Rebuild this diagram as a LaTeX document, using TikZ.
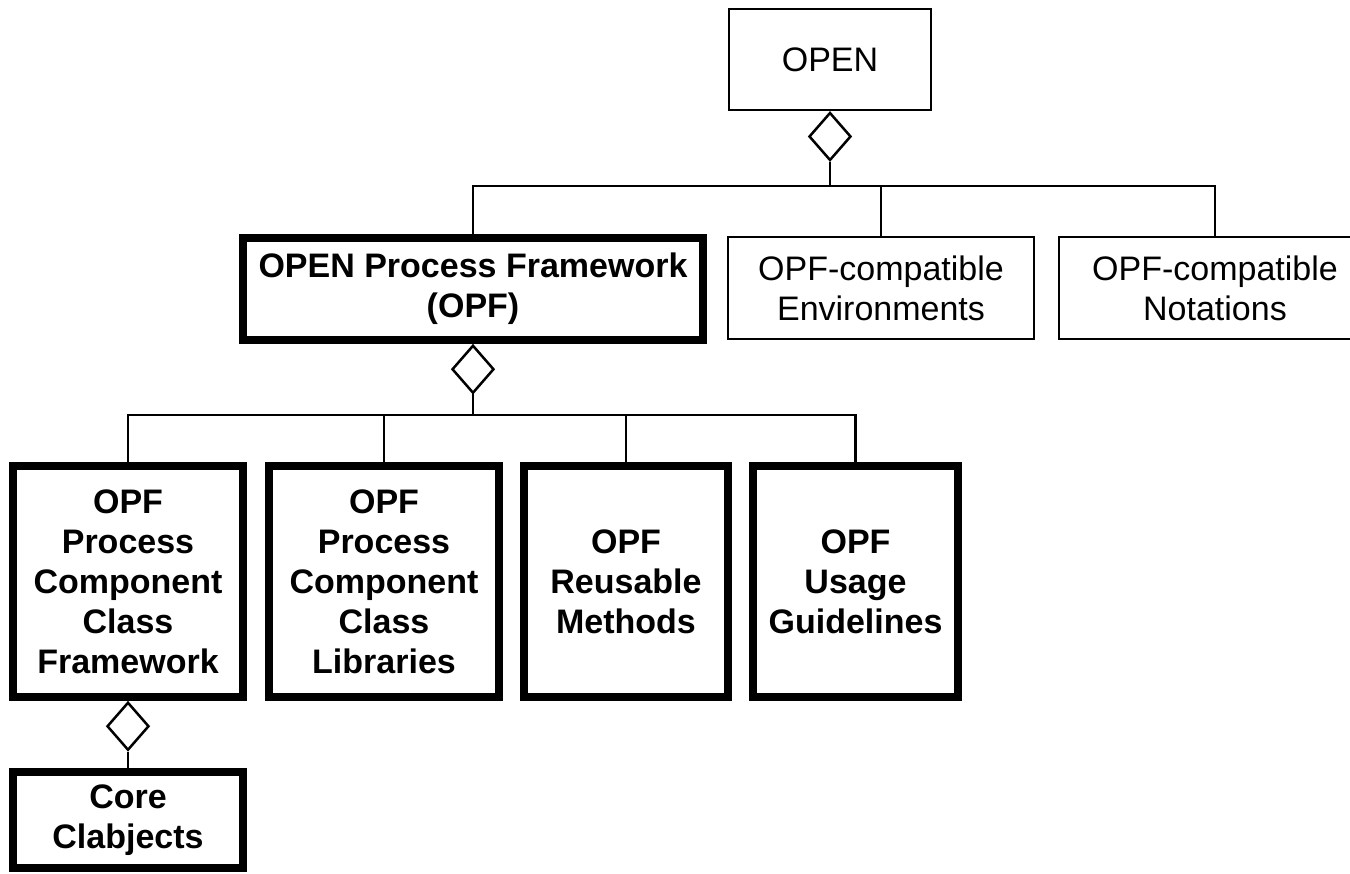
\documentclass[tikz,border=0pt]{standalone}
\usepackage{fontspec}
\setmainfont{Liberation Sans}
\usetikzlibrary{shapes.geometric}
\begin{document}
\begin{tikzpicture}[x=1pt,y=-1pt,
  box/.style={draw, line width=2.5pt, align=center, inner sep=0pt, font=\fontsize{34}{40}\selectfont},
  thickbox/.style={box, line width=8pt, font=\fontsize{34}{40}\selectfont\bfseries},
  agg/.style={diamond, draw, line width=2.5pt, minimum width=42pt, minimum height=48pt, inner sep=0pt, anchor=north, fill=white},
  conn/.style={line width=2.5pt}]
\useasboundingbox (0,0) rectangle (1350,874);
\clip (0,0) rectangle (1350,874);
% top level
\node[box, minimum width=202, minimum height=101] (open) at (830,59.5) {OPEN};
\node[agg] (d1) at (open.south) {};
% second level
\node[thickbox, minimum width=460, minimum height=102] (opf) at (473,289) {OPEN Process Framework\\(OPF)};
\node[box, minimum width=306, minimum height=102] (env) at (881,288) {OPF-compatible\\Environments};
\node[box, minimum width=312, minimum height=102] (notn) at (1215,288) {OPF-compatible\\Notations};
\node[agg] (d2) at (opf.south) {};
% third level
\node[thickbox, minimum width=230, minimum height=231] (pccf) at (128,581.5) {OPF\\Process\\Component\\Class\\Framework};
\node[thickbox, minimum width=230, minimum height=231] (pccl) at (384,581.5) {OPF\\Process\\Component\\Class\\Libraries};
\node[thickbox, minimum width=204, minimum height=231] (rm) at (626,581.5) {OPF\\Reusable\\Methods};
\node[thickbox, minimum width=205, minimum height=231] (ug) at (855.5,581.5) {OPF\\Usage\\Guidelines};
\node[agg] (d3) at (pccf.south) {};
% fourth level
\node[thickbox, minimum width=230, minimum height=96] (core) at (128,820) {Core\\Clabjects};
% connectors
\coordinate (j1) at (830,186);
\draw[conn] (d1.south) -- (j1);
\draw[conn] (opf.north) -- (opf.north |- j1) -- (notn.north |- j1) -- (notn.north);
\draw[conn] (env.north) -- (env.north |- j1);
\coordinate (j2) at (473,415);
\draw[conn] (d2.south) -- (j2);
\draw[conn] (pccf.north) -- (pccf.north |- j2) -- (ug.north |- j2) -- (ug.north);
\draw[conn] (pccl.north) -- (pccl.north |- j2);
\draw[conn] (rm.north) -- (rm.north |- j2);
\draw[conn] (d3.south) -- (core.north);
\end{tikzpicture}
\end{document}
